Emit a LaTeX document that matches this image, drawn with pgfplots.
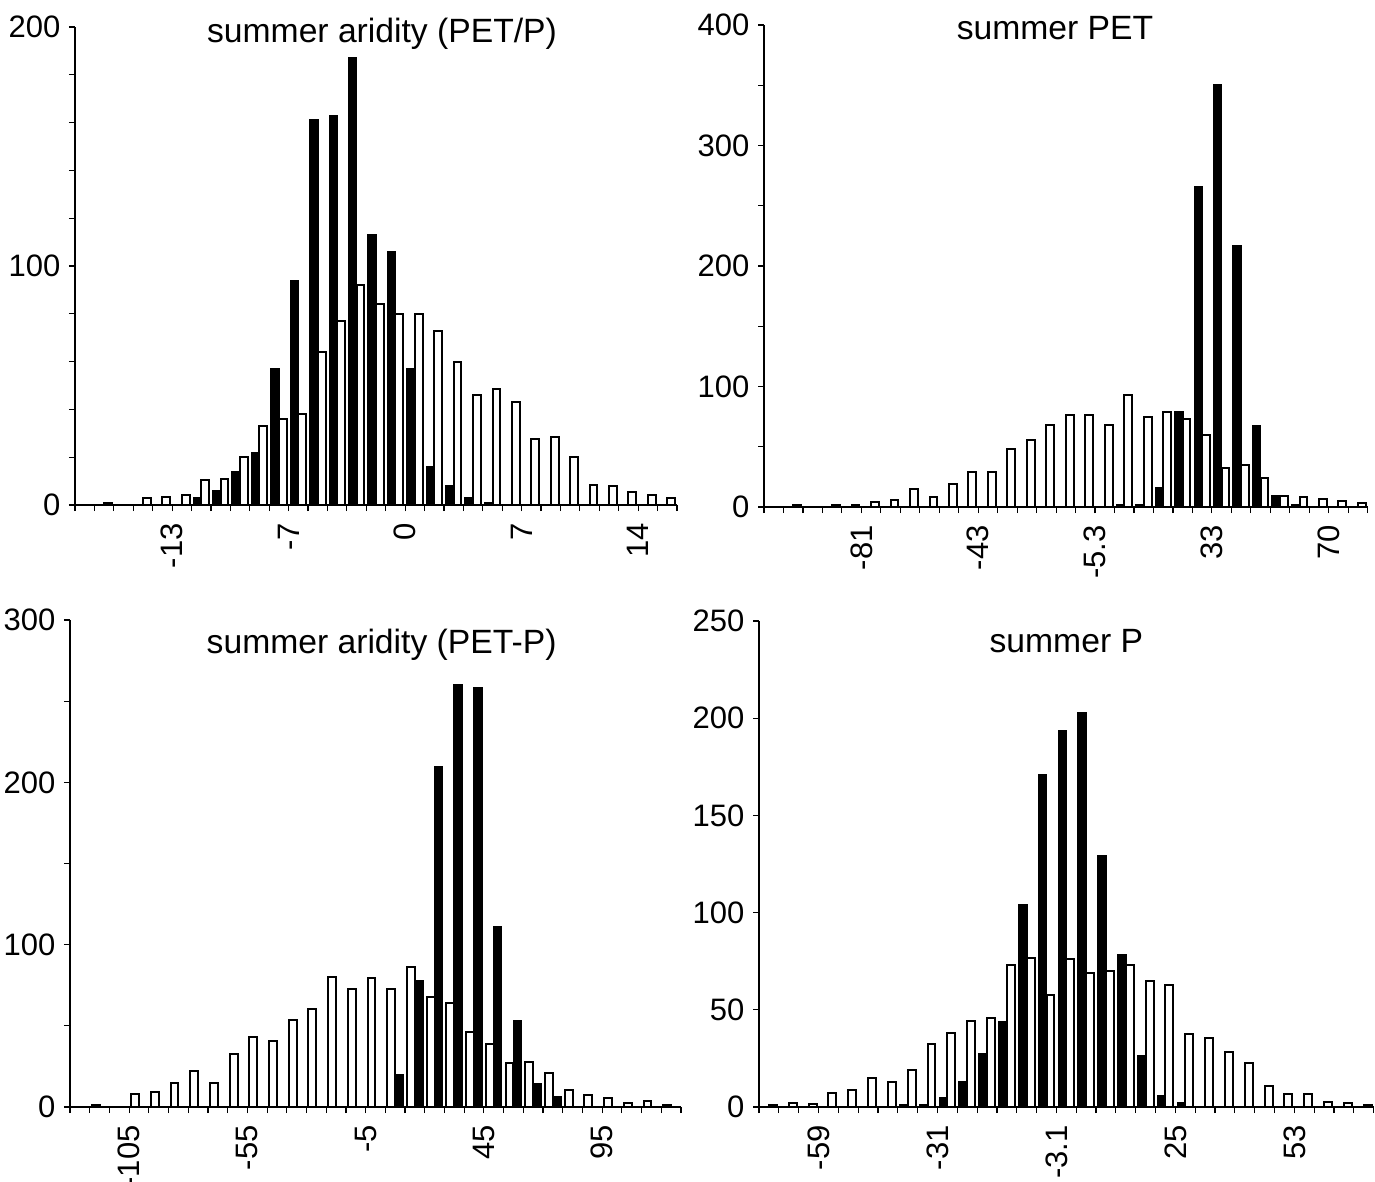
\documentclass[border=0pt]{standalone}
\usepackage{fontspec}
\setmainfont{Liberation Sans}
\usepackage{pgfplots}
\usepackage{pgfplotstable}
\pgfplotsset{compat=1.18}

% i = bin index, b = black bars, w = white bars
\pgfplotstableread{
i b w
0 nan nan
1 nan 1
2 nan nan
3 nan 3
4 nan 3.5
5 nan 4
6 3 10.5
7 6 11
8 14 20
9 22 33
10 57 36
11 94 38
12 161 64
13 163 77
14 187 92
15 113 84
16 106 80
17 57 80
18 16 73
19 8 60
20 3 46
21 1 48.5
22 nan 43
23 nan 27.5
24 nan 28.5
25 nan 20
26 nan 8.5
27 nan 8
28 nan 5.5
29 nan 4
30 nan 3
}\ratio

\pgfplotstableread{
i b w
0 nan nan
1 nan 2
2 nan nan
3 nan 2
4 nan 2
5 nan 4
6 nan 5.5
7 nan 15
8 nan 8.5
9 nan 19.5
10 nan 29
11 nan 29
12 nan 48
13 nan 56
14 nan 68
15 nan 76
16 nan 76
17 nan 68
18 2 93
19 2 75
20 16 79
21 79 73
22 266 60
23 350 32
24 217 35
25 67 24
26 9.5 9.5
27 2 8
28 nan 6.5
29 nan 5
30 nan 3
}\pet

\pgfplotstableread{
i b w
0 nan nan
1 nan 1.5
2 nan nan
3 nan 8
4 nan 9
5 nan 14.5
6 nan 22
7 nan 14.5
8 nan 32.5
9 nan 43
10 nan 40.5
11 nan 53.5
12 nan 60.5
13 nan 80
14 nan 72.5
15 nan 79.5
16 20 72.5
17 77.5 86
18 209.5 67.5
19 260 64
20 258 46.5
21 111 39
22 53 27
23 14 27.5
24 6 21
25 nan 10.5
26 nan 7.5
27 nan 5.5
28 nan 2.5
29 nan 4
30 nan 1.5
}\diff

\pgfplotstableread{
i b w
0 nan 1
1 nan 2.3
2 nan 1.3
3 nan 7
4 nan 9
5 nan 15
6 nan 13
7 1.3 19
8 1.3 32.5
9 4.5 38
10 13 44
11 27.5 46
12 44 73
13 104 76.5
14 171 57.5
15 193.5 76
16 203 69
17 129 70
18 78.5 73
19 26.5 65
20 6 63
21 2 37.5
22 nan 35.5
23 nan 28.5
24 nan 22.5
25 nan 11
26 nan 6.5
27 nan 6.5
28 nan 2.7
29 nan 2
30 nan 1
}\prec

\pgfplotsset{
  hist/.style={
    scale only axis,
    anchor=south west,
    axis x line*=bottom,
    axis y line*=left,
    axis line style={line width=0.35pt},
    xmin=0, xmax=31, ymin=0,
    enlargelimits=false,
    ybar, bar width=0.4,
    tick align=outside,
    major tick length=1.8pt,
    minor tick length=1.8pt,
    tick style={black, line width=0.35pt},
    minor xtick={0,...,31},
    x tick label style={rotate=90, anchor=east, inner sep=3.5pt,
      font=\fontsize{9.3}{11}\selectfont},
    y tick label style={inner sep=2.4pt, font=\fontsize{9.3}{11}\selectfont},
    /pgf/number format/assume math mode=true,
    clip=false,
  },
  blk/.style={fill=black, draw=black, line width=0.5pt},
  wht/.style={fill=white, draw=black, line width=0.6pt},
}
\tikzset{ttl/.style={anchor=base, inner sep=0pt, font=\fontsize{10.1}{12}\selectfont}}

\begin{document}
\begin{tikzpicture}
\useasboundingbox (0,0) rectangle (412.5pt,-354.3pt);

\begin{axis}[hist, at={(22.5pt,-151.5pt)}, width=180.6pt, height=143.4pt,
  ymax=200, ytick={0,100,200}, minor ytick={20,40,60,80,120,140,160,180},
  xtick={5,11,17,23,29}, xticklabels={-13,-7,0,7,14}]
\addplot[blk, bar shift=-0.2] table[x expr=\thisrow{i}+0.5, y=b] {\ratio};
\addplot[wht, bar shift=0.2] table[x expr=\thisrow{i}+0.5, y=w] {\ratio};
\node[ttl] at (axis description cs:0.51,0.967) {summer aridity (PET/P)};
\end{axis}

\begin{axis}[hist, at={(229.2pt,-152.1pt)}, width=181.1pt, height=144.6pt,
  ymax=400, ytick={0,100,200,300,400}, minor ytick={50,150,250,350},
  xtick={5,11,17,23,29}, xticklabels={-81,-43,-5.3,33,70}]
\addplot[blk, bar shift=-0.2] table[x expr=\thisrow{i}+0.5, y=b] {\pet};
\addplot[wht, bar shift=0.2] table[x expr=\thisrow{i}+0.5, y=w] {\pet};
\node[ttl] at (axis description cs:0.482,0.969) {summer PET};
\end{axis}

\begin{axis}[hist, at={(21pt,-332.1pt)}, width=183.3pt, height=146.1pt,
  ymax=300, ytick={0,100,200,300}, minor ytick={50,150,250},
  xtick={3,9,15,21,27}, xticklabels={-105,-55,-5,45,95}]
\addplot[wht, bar shift=-0.2] table[x expr=\thisrow{i}+0.5, y=w] {\diff};
\addplot[blk, bar shift=0.2] table[x expr=\thisrow{i}+0.5, y=b] {\diff};
\node[ttl] at (axis description cs:0.51,0.932) {summer aridity (PET-P)};
\end{axis}

\begin{axis}[hist, at={(227.7pt,-332.1pt)}, width=184.4pt, height=145.8pt,
  ymax=250, ytick={0,50,100,150,200,250},
  xtick={3,9,15,21,27}, xticklabels={-59,-31,-3.1,25,53}]
\addplot[blk, bar shift=-0.2] table[x expr=\thisrow{i}+0.5, y=b] {\prec};
\addplot[wht, bar shift=0.2] table[x expr=\thisrow{i}+0.5, y=w] {\prec};
\node[ttl] at (axis description cs:0.5,0.936) {summer P};
\end{axis}
\end{tikzpicture}
\end{document}
